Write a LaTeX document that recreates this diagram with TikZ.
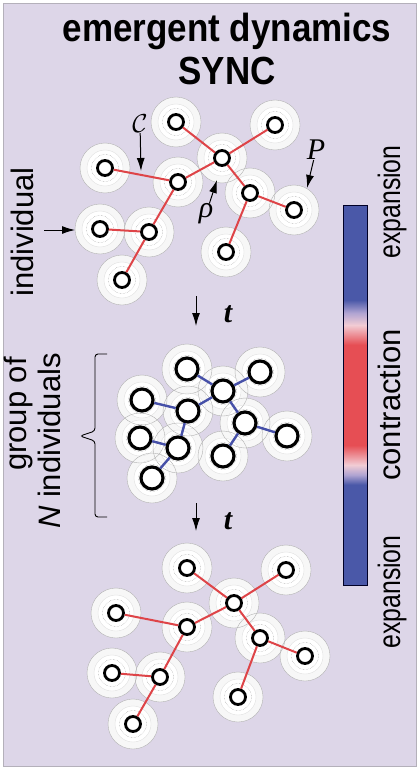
\documentclass[tikz,border=0pt]{standalone}
\usepackage{amsmath}
\usepackage{fontspec}
\setmainfont{Liberation Sans}
\newfontfamily\lserif{Liberation Serif}
\usetikzlibrary{arrows.meta}

\definecolor{bgpurple}{RGB}{221,214,232}
\definecolor{framegray}{RGB}{180,176,186}
\definecolor{linkred}{RGB}{222,68,72}
\definecolor{linkblue}{RGB}{70,80,168}
\definecolor{barblue}{RGB}{74,88,168}
\definecolor{barlav}{RGB}{176,164,210}
\definecolor{barpink}{RGB}{242,204,212}
\definecolor{barred}{RGB}{230,78,84}

\pgfdeclareverticalshading{cbar}{100bp}{color(0bp)=(barblue); color(38.2bp)=(barblue);
  color(39.5bp)=(barlav); color(40.8bp)=(barpink); color(43.4bp)=(barred);
  color(56.6bp)=(barred); color(59.2bp)=(barpink); color(60.8bp)=(barlav);
  color(62.5bp)=(barblue); color(100bp)=(barblue)}

\pgfdeclarelayer{paper}
\pgfdeclarelayer{halo}
\pgfsetlayers{paper,halo,main}

\tikzset{
  indiv/.style={circle, draw=black, line width=2.8pt, fill=white, inner sep=0pt, minimum size=15pt},
  indivbig/.style={indiv, line width=3.2pt, minimum size=22pt},
  haloout/.style={fill=black!3},
  haloin/.style={fill=white},
  halorim/.style={draw=black!30, line width=0.4pt},
  halomid/.style={draw=black!12, line width=0.4pt},
  halodot/.style={draw=black!40, line width=0.4pt, densely dotted},
  redlink/.style={draw=linkred, line width=2pt},
  bluelink/.style={draw=linkblue, line width=2.4pt},
  lbl/.style={font=\fontsize{31}{36}\selectfont, inner sep=0pt},
  mathlbl/.style={font=\fontsize{30}{34}\selectfont\lserif\itshape, inner sep=0pt},
  pointer/.style={-{Latex[length=13pt,width=8pt]}, line width=1pt},
}

\begin{document}
\begin{tikzpicture}[x=1pt, y=-1pt]
  \useasboundingbox (0,0) rectangle (419,770);
  \begin{pgfonlayer}{paper}
    \fill[bgpurple, draw=framegray, line width=0.8pt] (3,3) rectangle (416,766);
  \end{pgfonlayer}

  % title
  \node[anchor=base, inner sep=0pt, font=\fontsize{35}{42}\bfseries] (title) at (227,42) {\scalebox{1}[1.12]{emergent dynamics}};
  \node[anchor=base, inner sep=0pt, font=\fontsize{35}{42}\bfseries] (sync) at (227,85) {\scalebox{1}[1.12]{SYNC}};

  % individuals before
  \foreach \n/\x/\y in {1/176/122, 2/275/125, 3/222/158, 4/105/168, 5/178/182, 6/250/193,
                        7/294/210, 8/100/229, 9/149/232, 10/226/252, 11/122/280}
    \node[indiv] (a\n) at (\x,\y) {};
  % group
  \foreach \n/\x/\y in {1/187/369, 2/260/372, 3/223/391, 4/142/400, 5/188/411, 6/245/423,
                        7/287/436, 8/140/438, 9/178/448, 10/223/456, 11/152/478}
    \node[indivbig] (b\n) at (\x,\y) {};
  % individuals after
  \foreach \n/\x/\y in {1/187/568, 2/286/570, 3/234/603, 4/116/613, 5/187/627, 6/260/638,
                        7/305/656, 8/112/673, 9/160/677, 10/238/697, 11/133/724}
    \node[indiv] (c\n) at (\x,\y) {};

  \begin{pgfonlayer}{halo}
    \foreach \s in {a,b,c} {
      \foreach \n in {1,...,11}
        \fill[haloout] (\s\n) circle[radius=25pt];
      \foreach \n in {1,...,11}
        \fill[haloin] (\s\n) circle[radius=18pt];
      \foreach \n in {1,...,11} {
        \draw[halorim] (\s\n) circle[radius=25pt];
        \draw[halomid] (\s\n) circle[radius=18pt];
        \draw[halodot] (\s\n) circle[radius=13.5pt];
      }
    }
  \end{pgfonlayer}

  % couplings
  \foreach \p/\q in {1/3, 2/3, 3/5, 3/6, 6/7, 6/10, 4/5, 5/9, 8/9, 9/11} {
    \draw[redlink] (a\p) -- (a\q);
    \draw[bluelink] (b\p) -- (b\q);
    \draw[redlink] (c\p) -- (c\q);
  }

  % annotations
  \node[inner sep=0pt] (clab) at (140,124) {\scalebox{2.6}{$\mathcal{C}$}};
  \coordinate (ctip) at (141,171);
  \draw[pointer] (clab) -- (ctip);
  \node[mathlbl] (rholab) at (206,214) {ρ};
  \coordinate (rhotip) at (217,180);
  \draw[pointer] (rholab) -- (rhotip);
  \node[mathlbl] (plab) at (316,150) {P};
  \coordinate (ptip) at (307,188);
  \draw[pointer] (plab) -- (ptip);

  \node[lbl, rotate=90, anchor=base] (indiv) at (33,232) {individual};
  \coordinate (indivtail) at (44,230);
  \coordinate (indivtip) at (75,230);
  \draw[pointer] (indivtail) -- (indivtip);

  \node[lbl, rotate=90, anchor=base east] (grp1) at (26,357) {group of};
  \node[lbl, rotate=90, anchor=base east] (grp2) at (60,353) {\textit{N} individuals};
  \draw[line width=0.9pt, rounded corners=3pt] (107,354) -- (95,354) -- (95,431) -- (80,436)
    -- (95,441) -- (95,517) -- (107,517);

  % time steps
  \coordinate (t1top) at (196,296);
  \coordinate (t1bot) at (196,326);
  \draw[pointer] (t1top) -- (t1bot);
  \node[mathlbl, font=\fontsize{30}{34}\selectfont\lserif\bfseries\itshape] (t1lab) at (228,314) {t};
  \coordinate (t2top) at (196,503);
  \coordinate (t2bot) at (196,531);
  \draw[pointer] (t2top) -- (t2bot);
  \node[mathlbl, font=\fontsize{30}{34}\selectfont\lserif\bfseries\itshape] (t2lab) at (228,521) {t};

  % colour bar
  \shadedraw[shading=cbar, draw=black!85!blue, line width=1pt] (343,205) rectangle (367,585);
  \node[lbl, rotate=90, anchor=base] (exptop) at (400,202) {\scalebox{0.8}[1]{expansion}};
  \node[lbl, rotate=90, anchor=base] (contr) at (400,405) {contraction};
  \node[lbl, rotate=90, anchor=base] (expbot) at (400,592) {\scalebox{0.8}[1]{expansion}};
\end{tikzpicture}
\end{document}
